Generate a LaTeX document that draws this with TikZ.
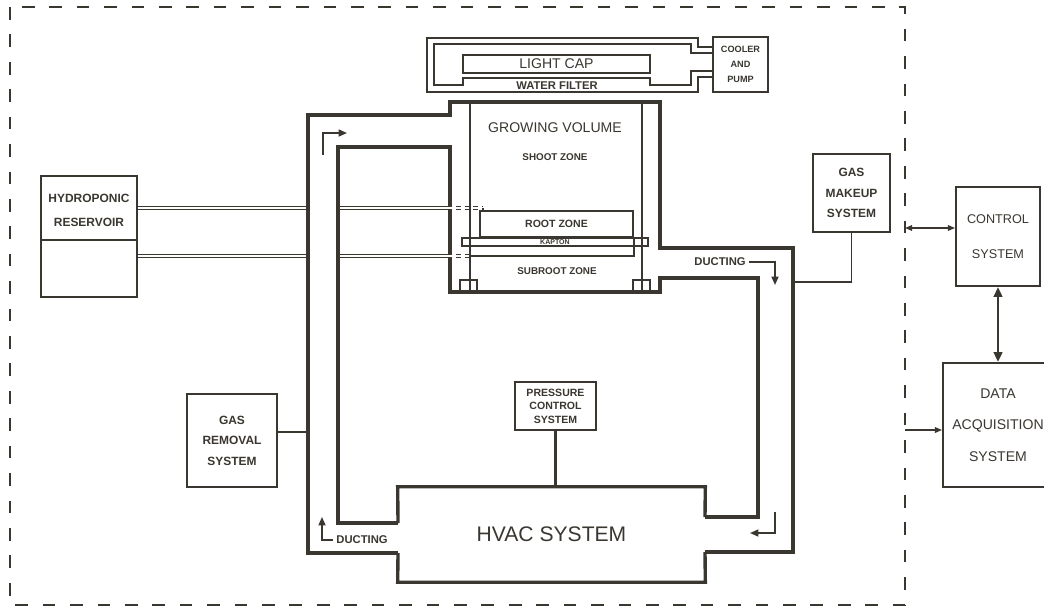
\documentclass[tikz,border=0pt]{standalone}
\usepackage{fontspec}
\setmainfont{Liberation Sans}
\usetikzlibrary{arrows.meta, calc}
\definecolor{inkgray}{RGB}{58,54,48}

\begin{document}
\begin{tikzpicture}[x=0.025cm, y=-0.025cm,
  sysbox/.style={draw=inkgray, line width=1.4pt, align=center, text=inkgray,
                 font=\bfseries\fontsize{8.5}{14.5}\selectfont, inner sep=0pt},
  lbl/.style={text=inkgray, inner sep=0pt, align=center},
  duct/.style={draw=inkgray, line width=2.4pt, line join=miter},
  thin/.style={draw=inkgray, line width=1pt},
  pipe/.style={draw=inkgray, line width=1pt, double=white, double distance=1.3pt},
  flow/.style={draw=inkgray, line width=1.1pt, -{Triangle[length=6pt,width=5pt]}},
  sig/.style={draw=inkgray, line width=0.9pt},
  bound/.style={draw=inkgray, line width=1.5pt, dash pattern=on 9pt off 10.5pt}
]
  \useasboundingbox (0,0) rectangle (1044,608);
  \clip (0,0) rectangle (1044,608);

  %% Dashed boundary
  \draw[bound] (10,7) rectangle (905,605);

  %% Light cap, water filter and cooler loop
  \node[sysbox, minimum width=4.675cm, minimum height=0.45cm,
        font=\fontsize{10}{12}\selectfont] (cap) at (556.5,64) {LIGHT CAP};
  \node[lbl, font=\bfseries\fontsize{8}{10}\selectfont] (filt) at (557,85.5) {WATER FILTER};
  \node[sysbox, minimum width=1.375cm, minimum height=1.375cm,
        font=\bfseries\fontsize{6.5}{10.7}\selectfont] (cool) at (740.5,64.5) {COOLER\\AND\\PUMP};
  \draw[thin] (cool.west |- 0,47) -- (698,47) -- (698,38) -- (427,38) -- (427,92)
              -- (698,92) -- (698,77) -- (cool.west |- 0,77);
  \draw[thin] (cool.west |- 0,53) -- (691,53) -- (691,44) -- (434,44) -- (434,85)
              -- (463,85) -- (463,78) -- (650,78) -- (650,85) -- (691,85)
              -- (691,71) -- (cool.west |- 0,71);

  %% Ducting and growing chamber walls
  \draw[duct] (398,553) -- (308,553) -- (308,115) -- (450,115) -- (450,102)
              -- (660,102) -- (660,248) -- (793,248) -- (793,552) -- (705,552);
  \draw[duct] (398,523) -- (338,523) -- (338,147) -- (450,147) -- (450,292)
              -- (660,292) -- (660,278) -- (758,278) -- (758,517) -- (705,517);
  \draw[thin] (470,102) -- (470,292);
  \draw[thin] (642,102) -- (642,292);
  \draw[thin] (460,280) rectangle (477,292);
  \draw[thin] (633,280) rectangle (650,292);

  %% Chamber zones
  \node[lbl, font=\fontsize{10}{12}\selectfont] (grow) at (555,128) {GROWING VOLUME};
  \node[lbl, font=\bfseries\fontsize{7}{9}\selectfont] (shoot) at (555,157) {SHOOT ZONE};
  \node[sysbox, minimum width=3.825cm, minimum height=0.65cm,
        font=\bfseries\fontsize{7.5}{10}\selectfont] (root) at (556.5,224) {ROOT ZONE};
  \node[sysbox, line width=1pt, minimum width=4.65cm, minimum height=0.2cm,
        font=\bfseries\fontsize{5}{6}\selectfont] (kap) at (555,242) {KAPTON};
  \node[lbl, font=\bfseries\fontsize{7}{9}\selectfont] (subroot) at (557,271) {SUBROOT ZONE};

  %% HVAC
  \node[lbl, minimum width=7.675cm, minimum height=2.375cm,
        font=\fontsize{15}{18}\selectfont] (hvac) at (551.5,534.5) {HVAC SYSTEM};
  \draw[duct] (398,523) -- (hvac.north west) -- (hvac.north east) -- (705,517);
  \draw[duct] (705,552) -- (hvac.south east) -- (hvac.south west) -- (398,553);
  \node[sysbox, minimum width=2.025cm, minimum height=1.2cm,
        font=\bfseries\fontsize{7.5}{9.6}\selectfont] (press) at (555.5,406) {PRESSURE\\CONTROL\\SYSTEM};
  \draw[duct] (press.south) -- (press.south |- hvac.north);

  %% Hydroponic reservoir and nutrient lines
  \node[sysbox, minimum width=2.4cm, minimum height=3.025cm] (hyd) at (89,236.5) {};
  \node[lbl, font=\bfseries\fontsize{8.5}{17}\selectfont] (hydtxt) at (89,210) {HYDROPONIC\\RESERVOIR};
  \draw[sysbox] (hyd.west |- 0,240) -- (hyd.east |- 0,240);
  \draw[pipe] (hyd.east |- 0,208) -- (306,208);
  \draw[pipe] (340,208) -- (448,208);
  \draw[pipe, dashed] (448,208) -- (483,208);
  \draw[thin] (483,208) -- (483,0 |- root.north);
  \draw[pipe] (hyd.east |- 0,256) -- (306,256);
  \draw[pipe] (340,256) -- (448,256);
  \draw[pipe, dashed] (448,256) -- (470,256);
  \draw[thin] (470,256) -| (root.south east);

  %% Gas systems
  \node[sysbox, minimum width=1.925cm, minimum height=1.95cm] (gasmk) at (851.5,193) {GAS\\MAKEUP\\SYSTEM};
  \coordinate (mkjoin) at (793,282);
  \draw[sig] (gasmk.south) |- (mkjoin);
  \node[sysbox, minimum width=2.25cm, minimum height=2.325cm] (gasrm) at (232,440.5) {GAS\\REMOVAL\\SYSTEM};
  \coordinate (rmjoin) at (308,432);
  \draw[sig] (rmjoin -| gasrm.east) -- (rmjoin);

  %% Control and data acquisition
  \node[sysbox, minimum width=2.1cm, minimum height=2.475cm,
        font=\fontsize{9}{25}\selectfont] (ctrl) at (998,236.5) {CONTROL\\SYSTEM};
  \node[sysbox, minimum width=2.75cm, minimum height=3.1cm,
        font=\fontsize{10}{22.5}\selectfont] (daq) at (998,425) {DATA\\ACQUISITION\\SYSTEM};
  \draw[line width=2pt, draw=inkgray,
        {Triangle[length=7pt,width=6pt]}-{Triangle[length=7pt,width=6pt]}] (ctrl.south) -- (daq.north);
  \coordinate (bndC) at (905,228);
  \coordinate (bndD) at (905,430);
  \draw[sig, {Triangle[length=5pt,width=4pt]}-{Triangle[length=5pt,width=4pt]}] (bndC) -- (bndC -| ctrl.west);
  \draw[sig, -{Triangle[length=5pt,width=4pt]}] (bndD) -- (bndD -| daq.west);

  %% Duct flow arrows
  \coordinate (flowA) at (323,155);
  \coordinate (flowB) at (347,133);
  \draw[flow] (flowA) |- (flowB);
  \node[lbl, font=\bfseries\fontsize{8}{10}\selectfont] (ductR) at (720,262) {DUCTING};
  \coordinate (ductRend) at (775,285);
  \draw[flow] ([xshift=2pt]ductR.east) -| (ductRend);
  \coordinate (flowC) at (775,512);
  \coordinate (flowD) at (750,533);
  \draw[flow] (flowC) |- (flowD);
  \node[lbl, font=\bfseries\fontsize{8}{10}\selectfont] (ductL) at (362,540) {DUCTING};
  \coordinate (ductLend) at (322,517);
  \draw[flow] ([xshift=-2pt]ductL.west) -| (ductLend);
\end{tikzpicture}
\end{document}
